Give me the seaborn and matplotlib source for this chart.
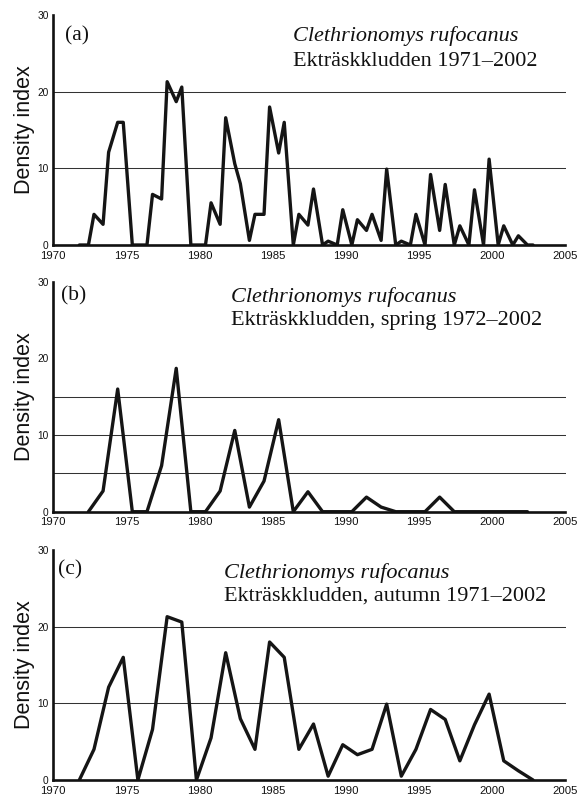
import numpy as np
import pandas as pd
import matplotlib
matplotlib.use("Agg")
import matplotlib.pyplot as plt
import seaborn as sns

# ---------------- data ----------------
spring_years = list(range(1972, 2003))
spring_vals = [0, 2.7, 16, 0, 0, 6, 18.7, 0, 0, 2.7, 10.6, 0.6, 4, 12, 0, 2.6,
               0, 0, 0, 1.9, 0.6, 0, 0, 0, 1.9, 0, 0, 0, 0, 0, 0]
autumn_years = list(range(1971, 2003))
autumn_vals = [0, 4, 12.1, 16, 0, 6.6, 21.3, 20.6, 0, 5.5, 16.6, 8, 4, 18, 16, 4,
               7.3, 0.5, 4.6, 3.3, 4, 9.9, 0.5, 4, 9.2, 7.9, 2.5, 7.2, 11.2, 2.5, 1.2, 0]
spring_offset = 0.40   # position of spring trapping within the year
autumn_offset = 0.78   # position of autumn trapping within the year

x_ticks = [1970, 1975, 1980, 1985, 1990, 1995, 2000, 2005]
y_ticks = [0, 10, 20, 30]

panel_letters = ["(a)", "(b)", "(c)"]
species = "Clethrionomys rufocanus"
subtitles = ["Ekträskkludden 1971\u20132002",
             "Ekträskkludden, spring 1972\u20132002",
             "Ekträskkludden, autumn 1971\u20132002"]
grid_levels = [[10, 20], [5, 10, 15], [10, 20]]

df_spring = pd.DataFrame({"t": np.array(spring_years) + spring_offset, "v": spring_vals})
df_autumn = pd.DataFrame({"t": np.array(autumn_years) + autumn_offset, "v": autumn_vals})
df_all = pd.concat([df_spring, df_autumn]).sort_values("t").reset_index(drop=True)
frames = [df_all, df_spring, df_autumn]

# ---------------- figure ----------------
sns.set_style("white")
plt.rcParams['font.family'] = ['Liberation Sans', 'DejaVu Sans']

W, H = 583, 798
fig = plt.figure(figsize=(W / 100, H / 100), dpi=100)

def axes_px(left, top, right, bottom):
    return fig.add_axes([left / W, 1 - bottom / H, (right - left) / W, (bottom - top) / H])

boxes = [(53.3, 15, 565.5, 245), (53.3, 281.7, 565.5, 511.7), (53.3, 550, 565.5, 780)]
# text placement (pixels): letter (x, baseline), title x, baselines of the two lines
letter_pos = [(65, 40), (61, 300), (58, 574)]
title_pos = [(293, 41.5, 66), (231, 302, 325), (224, 578, 601)]

for i, ax in enumerate([axes_px(*b) for b in boxes]):
    for g in grid_levels[i]:
        ax.axhline(g, color="#333333", lw=0.75, zorder=1)
    sns.lineplot(data=frames[i], x="t", y="v", ax=ax, color="#151515",
                 lw=2.4, estimator=None, sort=True, zorder=3)
    ax.set_xlim(1970, 2005)
    ax.set_ylim(0, 30)
    ax.set_xticks(x_ticks)
    ax.set_yticks(y_ticks)
    ax.set_xlabel("")
    ax.set_ylabel("Density index", fontsize=15.5, color="#111111")
    ax.yaxis.set_label_coords(-0.036, 0.5)
    for s in ["top", "right"]:
        ax.spines[s].set_visible(False)
    for s in ["left", "bottom"]:
        ax.spines[s].set_linewidth(1.9)
        ax.spines[s].set_color("#111111")
        ax.spines[s].set_zorder(4)
    ax.tick_params(axis="x", direction="out", length=2.5, width=1, pad=1.5,
                   labelsize=8.2, colors="#111111")
    ax.tick_params(axis="y", direction="out", length=2.5, width=1, pad=1,
                   labelsize=7.3, colors="#111111")
    ax.set_facecolor("white")

    lx, ly = letter_pos[i]
    fig.text(lx / W, 1 - ly / H, panel_letters[i], fontsize=15.5,
             family=["Liberation Serif", "DejaVu Serif"], va="baseline", ha="left",
             color="#111111")
    tx, b1, b2 = title_pos[i]
    fig.text(tx / W, 1 - b1 / H, species, fontsize=16, style="italic",
             family=["Liberation Serif", "DejaVu Serif"], va="baseline", ha="left",
             color="#111111")
    fig.text(tx / W, 1 - b2 / H, subtitles[i], fontsize=16,
             family=["Liberation Serif", "DejaVu Serif"], va="baseline", ha="left",
             color="#111111")

fig.savefig("out.png", dpi=100, facecolor="white")
